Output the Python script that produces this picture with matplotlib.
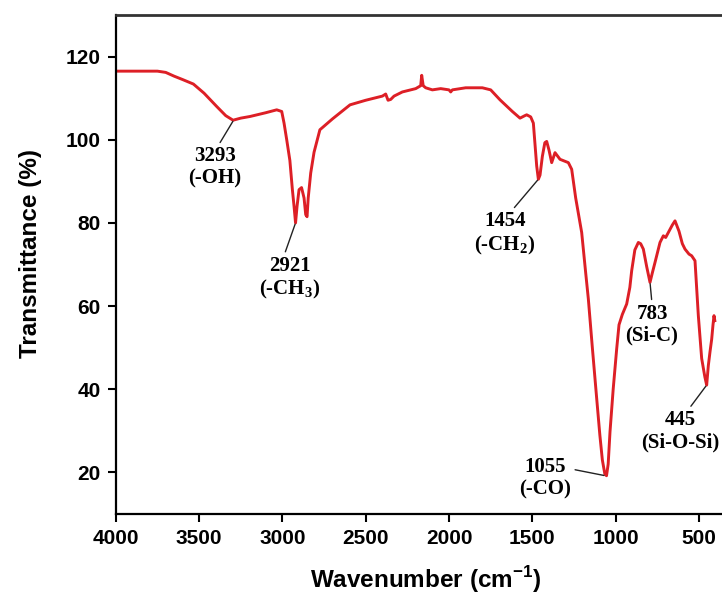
import matplotlib
matplotlib.use("Agg")
import matplotlib.pyplot as plt

plt.rcParams['font.family'] = ['Liberation Sans', 'DejaVu Sans']
plt.rcParams['mathtext.fontset'] = 'custom'
plt.rcParams['mathtext.rm'] = 'Liberation Serif:bold'
plt.rcParams['mathtext.sf'] = 'Liberation Sans:bold'

# FTIR spectrum
wavenumber = [4000, 3900, 3800, 3750, 3700, 3650, 3600, 3534, 3470, 3394,
              3340, 3296, 3250, 3194, 3100, 3034, 3004, 2990, 2974, 2955,
              2940, 2930, 2921, 2912, 2900, 2885, 2870, 2860, 2852, 2845,
              2830, 2810, 2775, 2700, 2594, 2500, 2450, 2400, 2380, 2366,
              2350, 2330, 2280, 2200, 2170, 2164, 2155, 2140, 2100, 2050,
              2000, 1990, 1980, 1900, 1800, 1750, 1694, 1620, 1574, 1545,
              1534, 1510, 1494, 1474, 1464, 1454, 1440, 1425, 1414, 1400,
              1384, 1364, 1334, 1284, 1264, 1240, 1204, 1180, 1164, 1140,
              1114, 1095, 1080, 1065, 1055, 1045, 1034, 1015, 994, 980,
              960, 934, 915, 904, 885, 864, 850, 834, 814, 794,
              780, 764, 734, 714, 700, 680, 660, 644, 620, 600,
              584, 560, 544, 524, 504, 484, 465, 454, 444, 434,
              424, 416, 410, 405]
transmittance = [116.5, 116.5, 116.5, 116.5, 116.2, 115.3, 114.5, 113.4, 111.2, 108,
                 105.8, 104.7, 105.2, 105.6, 106.5, 107.2, 106.8, 104, 100, 95,
                 88, 84, 80, 84, 88, 88.5, 86, 82, 81.5, 86,
                 92, 97, 102.4, 105, 108.4, 109.5, 110, 110.5, 111, 109.5,
                 109.7, 110.5, 111.5, 112.3, 113, 115.5, 113, 112.5, 112, 112.3,
                 112, 111.5, 112, 112.5, 112.5, 112, 109.6, 106.8, 105.2, 105.8,
                 106, 105.5, 104, 93.7, 90.5, 91.5, 96, 99.3, 99.6, 97.5,
                 94.5, 96.9, 95.3, 94.5, 92.9, 86, 77.7, 68, 61.7, 50,
                 37.8, 29, 23, 19.6, 19.2, 22, 29.8, 40, 49.7, 55.5,
                 58, 60.5, 64.5, 68.5, 73.5, 75.3, 75, 73.7, 69.5, 65.7,
                 68, 70.5, 75.3, 76.9, 76.5, 78, 79.5, 80.5, 78, 75,
                 73.7, 72.5, 72.1, 70.9, 57.7, 47.4, 43, 41, 45.7, 49,
                 52, 55.5, 57.7, 56.5]

# peak labels and the point on the curve each one points at
peak_labels = ["3293\n(-OH)", "2921\n(-CH$_3$)", "1454\n(-CH$_2$)",
               "1055\n(-CO)", "783\n(Si-C)", "445\n(Si-O-Si)"]
peak_x = [3293, 2921, 1464, 1062, 794, 454]
peak_y = [104.7, 80, 90.5, 19.2, 65.7, 41]

fig = plt.figure(figsize=(7.22, 5.96), dpi=100)
ax = fig.add_axes([0.1603, 0.1376, 0.8397, 0.8372])

ax.plot(wavenumber, transmittance, color='#dd1f26', lw=2.1)

ax.set_xlim(4000, 362)
ax.set_ylim(10, 130)
ax.set_xticks([4000, 3500, 3000, 2500, 2000, 1500, 1000, 500])
ax.set_yticks([20, 40, 60, 80, 100, 120])

for lbl in ax.get_xticklabels() + ax.get_yticklabels():
    lbl.set_fontweight('bold')
    lbl.set_fontsize(15)
ax.tick_params(direction='out', length=6, width=1.5, pad=5)

ax.spines['right'].set_visible(False)
for s in ['left', 'bottom']:
    ax.spines[s].set_linewidth(1.6)
ax.spines['top'].set_linewidth(2.0)
ax.spines['top'].set_color('#333333')

text_pos = [(3404, 93.3, (0.55, 1.0)), (2954, 66.6, (0.4, 1.0)),
            (1664, 77.3, (0.6, 1.0)), (1424, 18.6, (1.0, 0.72)),
            (782, 55.5, (0.5, 1.0)), (613, 29.9, (0.6, 1.0))]

for lab, px, py, (tx, ty, rp) in zip(peak_labels, peak_x, peak_y, text_pos):
    ax.annotate(lab, xy=(px, py), xytext=(tx, ty), ha='center', va='center',
                fontsize=15, fontweight='bold', family='Liberation Serif',
                linespacing=1.15,
                arrowprops=dict(arrowstyle='-', color='#222222', lw=1.0,
                                relpos=rp, shrinkA=1, shrinkB=1))

fig.text(0.589, 0.027, r'Wavenumber (cm$^{\mathsf{-1}}$)', ha='center', va='center',
         fontsize=17.5, fontweight='bold')
fig.text(0.042, 0.575, 'Transmittance (%)', ha='center', va='center',
         rotation=90, fontsize=17.5, fontweight='bold')

fig.savefig('out.png', dpi=100)
